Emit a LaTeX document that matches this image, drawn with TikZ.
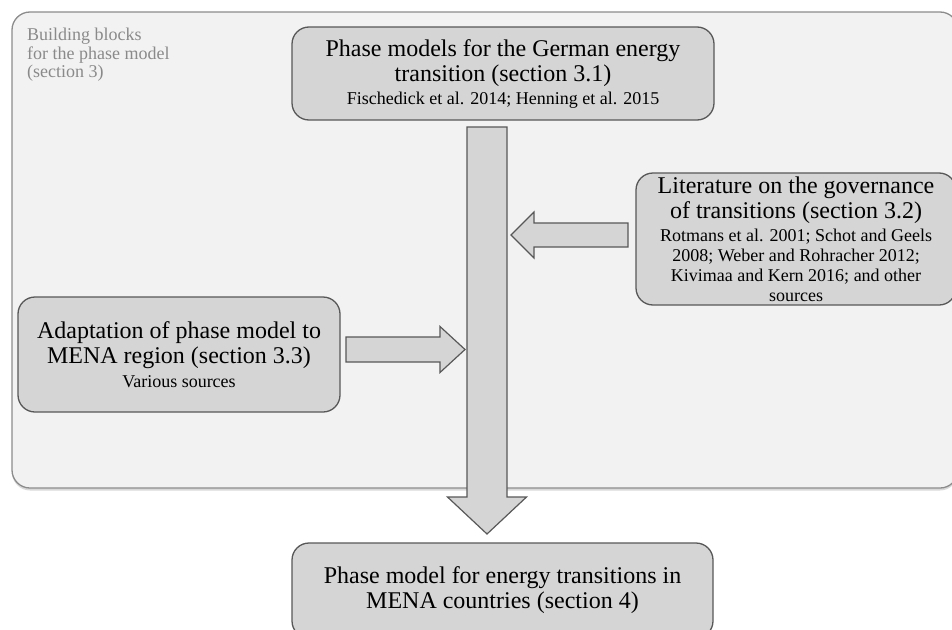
\documentclass[tikz,border=0pt]{standalone}
\usepackage{fontspec}
\setmainfont{Liberation Serif}
\usepackage{xcolor}
\usetikzlibrary{calc,shadows}
\definecolor{cOuter}{RGB}{242,242,242}
\definecolor{cFrame}{RGB}{140,140,140}
\definecolor{cBlock}{RGB}{213,213,213}
\definecolor{cEdge}{RGB}{88,88,88}
\definecolor{cNote}{RGB}{138,138,138}
\newcommand{\bigf}{\fontsize{24}{25}\selectfont}
\newcommand{\smallf}{\fontsize{18}{20}\selectfont}
\tikzset{
  frame/.style={draw=cFrame, fill=cOuter, line width=1.3pt, rounded corners=18pt,
                drop shadow={shadow xshift=0pt, shadow yshift=-2.5pt, opacity=0.3}},
  block/.style={draw=cEdge, fill=cBlock, line width=1.3pt, rounded corners=17pt,
                align=center, inner sep=0pt, font=\bigf},
  fat/.style={draw=cEdge, fill=cBlock, line width=1.2pt, line join=miter},
  note/.style={align=left, text=cNote, inner sep=0pt,
               font=\fontsize{18}{18.5}\selectfont},
}

\begin{document}
\begin{tikzpicture}[x=1pt, y=-1pt]
  \useasboundingbox (0,0) rectangle (952,629);
  \clip (0,0) rectangle (952,629);
  % background block for section 3
  \draw[frame] (12,12) rectangle (958,488);
  \node[note, anchor=north west] (bb) at (27,28) {Building blocks\\for the phase model\\(section 3)};

  \node[block, minimum width=422pt, minimum height=93pt] (german) at (503,73.5)
    {Phase models for the German energy\\transition (section 3.1)\\[-2pt]
     \smallf Fischedick et al. 2014; Henning et al. 2015};
  \node[block, minimum width=320pt, minimum height=132pt] (gov) at (796,239)
    {Literature on the governance\\of transitions (section 3.2)\\[-2pt]
     \smallf Rotmans et al. 2001; Schot and Geels\\[-5pt]
     \smallf 2008; Weber and Rohracher 2012;\\[-5pt]
     \smallf Kivimaa and Kern 2016; and other\\[-5pt]
     \smallf sources};
  \node[block, minimum width=322pt, minimum height=115pt] (mena) at (179,354.5)
    {Adaptation of phase model to\\MENA region (section 3.3)\\[-1pt]
     \smallf Various sources};
  \node[block, minimum width=421pt, minimum height=95pt] (final) at (502.5,590.5)
    {Phase model for energy transitions in\\MENA countries (section 4)};

  % block arrows
  \coordinate (vtail) at (487,127);
  \coordinate (vtip) at (487,534);
  \coordinate (ltail) at (628,235);
  \coordinate (ltip) at (511,235);
  \coordinate (rtail) at (346,349.5);
  \coordinate (rtip) at (465,349.5);
  \draw[fat] ($(vtail)+(-20,0)$) -- ($(vtip)+(-20,-37)$) -- ($(vtip)+(-39.5,-37)$) -- (vtip)
    -- ($(vtip)+(39.5,-37)$) -- ($(vtip)+(20,-37)$) -- ($(vtail)+(20,0)$) -- cycle;
  \draw[fat] ($(ltail)+(0,-12)$) -- ($(ltip)+(23,-12)$) -- ($(ltip)+(23,-23)$) -- (ltip)
    -- ($(ltip)+(23,23)$) -- ($(ltip)+(23,12)$) -- ($(ltail)+(0,12)$) -- cycle;
  \draw[fat] ($(rtail)+(0,-12.5)$) -- ($(rtip)+(-25,-12.5)$) -- ($(rtip)+(-25,-23)$) -- (rtip)
    -- ($(rtip)+(-25,23)$) -- ($(rtip)+(-25,12.5)$) -- ($(rtail)+(0,12.5)$) -- cycle;
\end{tikzpicture}
\end{document}
